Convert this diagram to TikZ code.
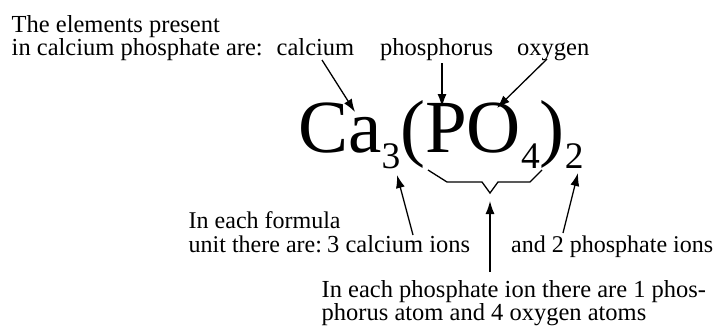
\documentclass[tikz,border=0pt]{standalone}
\usepackage{fontspec}
\setmainfont{Liberation Serif}
\usetikzlibrary{arrows.meta}
\newcommand\fsub[1]{\raisebox{-16pt}{\fontsize{37.5}{37.5}\selectfont #1}}
\begin{document}
\begin{tikzpicture}[x=1pt,y=-1pt,
  lbl/.style={anchor=base west,inner sep=0pt,font=\fontsize{24.5}{23}\selectfont},
  lbls/.style={lbl,font=\fontsize{24}{23}\selectfont},
  arr/.style={-{Latex[length=13pt,width=9pt]},line width=1.3pt},
  brc/.style={line width=1.3pt}]
\useasboundingbox (0,0) rectangle (719,327);
% top texts
\node[lbl] (t1) at (11.5,32) {The elements present};
\node[lbl] (t2) at (11.5,55) {in calcium phosphate are:};
\node[lbl] (ca) at (276.5,55) {calcium};
\node[lbl] (ph) at (380,55) {phosphorus};
\node[lbl] (ox) at (517,55) {oxygen};
% formula
\node[anchor=base west,inner sep=0pt,font=\fontsize{75}{75}\selectfont] (f) at (298,152) {Ca\fsub{3}(PO\fsub{4})\fsub{2}};
% bottom texts
\node[lbls] (b1) at (188.5,228) {In each formula};
\node[lbls] (b2) at (188.5,252) {unit there are:};
\node[lbl] (b3) at (327,252) {3 calcium ions};
\node[lbls] (b4) at (511,252) {and 2 phosphate ions};
\node[lbl] (c1) at (321.5,297) {In each phosphate ion there are 1 phos-};
\node[lbl] (c2) at (321.5,320) {phorus atom and 4 oxygen atoms};
% coordinates
\coordinate (caS) at (322,60);  \coordinate (caT) at (355,112);
\coordinate (phS) at (442,63);  \coordinate (phT) at (442,107);
\coordinate (oxS) at (547,59);  \coordinate (oxT) at (497,108);
\coordinate (b3S) at (413,235); \coordinate (b3T) at (397,175);
\coordinate (c1S) at (490,272); \coordinate (c1T) at (490,201);
\coordinate (b4S) at (563,233); \coordinate (b4T) at (578,173);
% brace
\coordinate (r1) at (428,170); \coordinate (r2) at (447,182);
\coordinate (r3) at (482,182); \coordinate (r4) at (490,193);
\coordinate (r5) at (498,182); \coordinate (r6) at (530,182);
\coordinate (r7) at (542,170);
\draw[brc] (r1) -- (r2) -- (r3) -- (r4) -- (r5) -- (r6) -- (r7);
% arrows
\draw[arr] (caS) -- (caT);
\draw[arr] (phS) -- (phT);
\draw[arr] (oxS) -- (oxT);
\draw[arr] (b3S) -- (b3T);
\draw[arr] (c1S) -- (c1T);
\draw[arr] (b4S) -- (b4T);
\end{tikzpicture}
\end{document}
